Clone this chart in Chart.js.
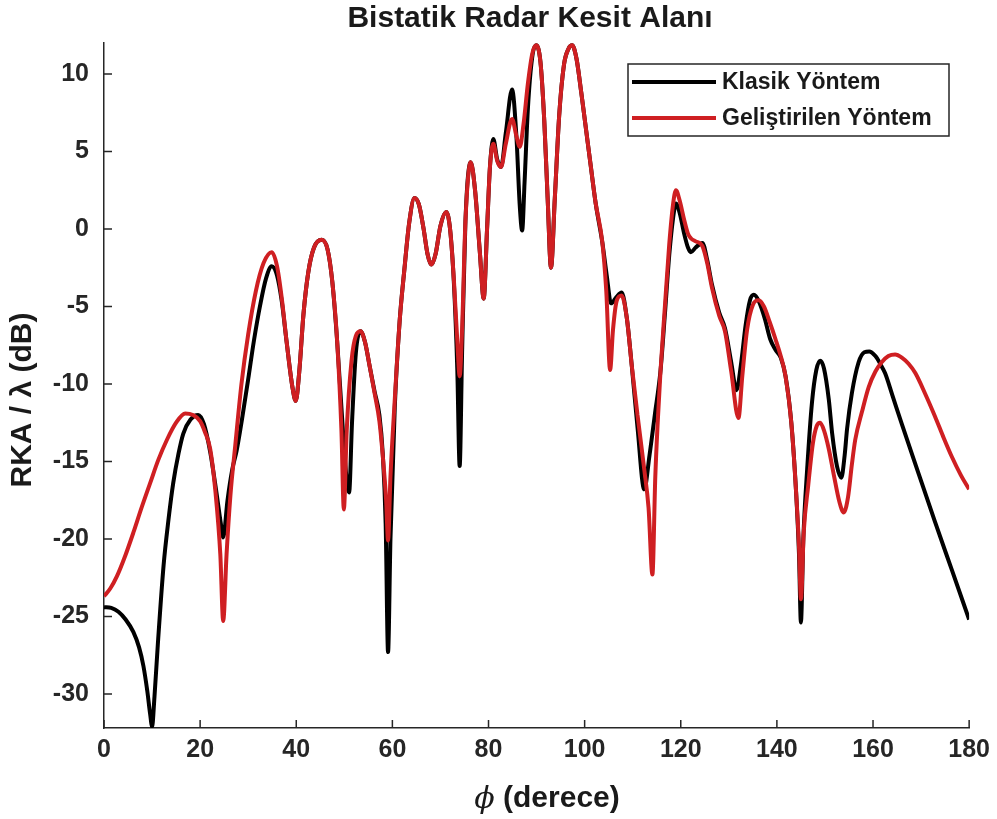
<!DOCTYPE html>
<html lang="tr">
<head>
    <meta charset="UTF-8">
    <title>Bistatik Radar Kesit Alanı</title>
    <script src="https://cdn.jsdelivr.net/npm/chart.js"></script>
    <style>
        html, body { margin: 0; padding: 0; background: #fff; }
        #wrap { width: 997px; height: 819px; }
    </style>
</head>
<body>
    <div id="wrap"><canvas id="rka"></canvas></div>

    <script>
        // eksen degerleri
        const xTicks = [0, 20, 40, 60, 80, 100, 120, 140, 160, 180];
        const yTicks = [-30, -25, -20, -15, -10, -5, 0, 5, 10];

        // [phi (derece), RKA/lambda (dB)]
        const klasik = [
            [0, -24.4], [1.5, -24.45], [3, -24.7], [4.5, -25.2], [6.1, -26.0], [7.3, -27.0], [8.2, -28.2], [9, -29.8], [9.6, -31.3], [10, -32.1],
            [10.5, -30.2], [11.2, -26.8], [12.4, -21.7], [13.4, -18.8], [14.4, -16.4], [15.5, -14.5], [16.5, -13.2], [18, -12.3], [19.6, -12.0], [20.8, -12.6],
            [22.1, -14.4], [23.3, -16.8], [24.3, -19.0], [24.8, -19.9], [25.7, -17.5], [26.7, -15.5], [27.6, -14.3], [28.7, -12.3], [30, -9.7], [31.2, -7.2],
            [32.5, -4.9], [33.7, -3.2], [34.9, -2.4], [36, -3.0], [37, -4.7], [38, -7.3], [39.2, -10.2], [39.9, -11.1], [40.6, -9.3], [41.5, -5.5],
            [42.5, -2.8], [43.7, -1.2], [45.3, -0.7], [46.5, -1.3], [47.5, -3.4], [48.5, -7.2], [49.6, -12.5], [50.5, -16.2], [51, -17.0], [51.6, -12.5],
            [52.4, -8.0], [53.4, -6.6], [54.3, -7.3], [55.3, -8.9], [56.3, -10.5], [57.3, -12.0], [58, -14.5], [58.6, -19.0], [59.1, -27.3], [59.6, -20.0],
            [60.5, -11.5], [61.5, -6.0], [62.5, -2.6], [63.5, 0.4], [64.6, 2.0], [65.5, 1.6], [66.5, 0.0], [67.3, -1.6], [68.1, -2.3], [69, -1.6],
            [70, 0.2], [71.2, 1.1], [72, 0.0], [72.8, -3.5], [73.5, -9.0], [74, -15.3], [74.5, -8.0], [75.2, 0.5], [76.3, 4.3], [77.2, 2.5],
            [78.2, -1.5], [79, -4.5], [79.7, 0.0], [80.3, 4.0], [81, 5.8], [81.8, 4.5], [82.6, 4.0], [83.6, 6.2], [84.9, 9.0], [85.8, 6.0],
            [86.5, 1.5], [87, -0.1], [87.5, 3.0], [88.2, 7.8], [89.1, 11.1], [89.9, 11.85], [90.8, 10.8], [91.6, 7.0], [92.3, 2.0], [93, -2.5],
            [93.8, 2.0], [94.7, 7.3], [95.7, 10.6], [96.6, 11.6], [97.4, 11.85], [98.3, 11.0], [99.3, 8.8], [100.3, 6.4], [101.3, 4.0], [102.3, 1.65],
            [103.7, -0.9], [104.6, -3.0], [105.5, -4.8], [106.6, -4.4], [107.7, -4.1], [108.8, -5.8], [109.8, -8.8], [111, -12.8], [112.4, -16.8], [113.5, -14.6],
            [114.6, -12.0], [115.8, -9.1], [116.7, -5.5], [117.6, -1.7], [118.4, 0.7], [119, 1.65], [119.8, 1.0], [120.7, -0.3], [121.5, -1.2], [122.1, -1.5],
            [123.1, -1.2], [124.5, -0.9], [125.5, -2.0], [126.5, -3.6], [128, -5.4], [129.2, -6.4], [130.5, -8.6], [131.6, -10.4], [132.5, -8.8], [133.5, -6.2],
            [134.4, -4.6], [135.2, -4.25], [136.3, -4.7], [137.5, -5.8], [138.6, -7.1], [139.7, -7.8], [140.8, -8.3], [141.8, -9.5], [143, -12.5], [144, -17.0],
            [144.6, -21.0], [145, -25.4], [145.5, -20.0], [146.3, -15.5], [147.3, -11.2], [148.2, -9.1], [149, -8.5], [149.8, -9.0], [150.8, -11.0], [151.5, -13.2],
            [152.5, -15.3], [153.4, -16.05], [154.1, -14.6], [154.6, -12.9], [155.6, -10.6], [157, -8.6], [158.2, -7.95], [159.2, -7.9], [160.5, -8.2], [161.5, -8.7],
            [162.5, -9.3], [164, -10.7], [166, -12.6], [169.5, -15.8], [172.9, -18.9], [176.4, -22.0], [180, -25.2]
        ];

        const gelistirilen = [
            [0, -23.7], [1.3, -23.2], [2.7, -22.4], [4.4, -21.1], [6.1, -19.6], [7.8, -18.0], [9.6, -16.4], [11.3, -14.9], [13.1, -13.6], [15, -12.5],
            [16.9, -11.9], [18.5, -12.0], [20, -12.4], [21, -13.1], [22.1, -14.2], [23.2, -17.0], [24.2, -21.0], [24.8, -25.3], [25.5, -21.0], [26.3, -17.2],
            [27.3, -14.0], [28.6, -10.0], [30, -6.8], [31.6, -4.0], [33.2, -2.2], [34.9, -1.5], [36, -2.4], [37, -4.5], [38, -7.3], [39.2, -10.2],
            [39.9, -11.1], [40.6, -9.3], [41.5, -5.5], [42.5, -2.8], [43.7, -1.2], [45.3, -0.7], [46.5, -1.3], [47.5, -3.4], [48.5, -7.2], [49.4, -13.0],
            [49.9, -18.1], [50.5, -13.0], [51.5, -8.5], [52.4, -6.9], [53.4, -6.6], [54.3, -7.3], [55.3, -8.9], [56.3, -10.6], [57.3, -12.4], [58.1, -15.0],
            [58.7, -17.5], [59.1, -20.1], [59.6, -16.0], [60.5, -11.0], [61.5, -6.0], [62.5, -2.6], [63.5, 0.4], [64.6, 2.0], [65.5, 1.6], [66.5, 0.0],
            [67.3, -1.6], [68.1, -2.3], [69, -1.6], [70, 0.2], [71.2, 1.1], [72, 0.0], [72.8, -3.3], [73.5, -7.2], [74, -9.5], [74.5, -6.5],
            [75.2, 0.5], [76.3, 4.3], [77.2, 2.5], [78.2, -1.5], [79, -4.5], [79.7, 0.0], [80.3, 4.0], [81, 5.5], [81.8, 4.4], [82.6, 4.0],
            [83.6, 5.5], [84.9, 7.1], [85.8, 6.0], [86.5, 5.3], [87.3, 6.8], [88.2, 9.4], [89.1, 11.3], [89.9, 11.85], [90.8, 10.8], [91.6, 7.0],
            [92.3, 2.0], [93, -2.5], [93.8, 2.0], [94.7, 7.3], [95.7, 10.6], [96.6, 11.6], [97.4, 11.85], [98.3, 11.0], [99.3, 8.8], [100.3, 6.4],
            [101.3, 4.0], [102.3, 1.65], [103.7, -0.9], [104.5, -4.0], [105.3, -9.1], [105.9, -6.5], [106.7, -4.6], [107.7, -4.3], [108.8, -5.8], [109.8, -8.8],
            [111, -12.0], [112.4, -15.5], [113.3, -18.0], [114.1, -22.3], [114.7, -16.0], [115.2, -12.5], [115.8, -9.1], [116.7, -5.0], [117.6, -1.0], [118.4, 1.6],
            [119, 2.5], [119.8, 1.8], [120.7, 0.6], [121.5, -0.3], [122.1, -0.6], [123.1, -0.8], [124.5, -1.1], [125.5, -2.2], [126.5, -3.8], [128, -5.6],
            [129.2, -6.6], [130.5, -9.2], [132, -12.2], [132.8, -9.5], [133.8, -6.5], [135, -4.9], [136.2, -4.6], [137.3, -5.0], [138.5, -6.0], [139.7, -7.1],
            [140.8, -8.2], [141.8, -9.5], [143, -12.5], [144, -17.0], [144.6, -20.5], [145, -23.9], [145.6, -19.5], [146.5, -16.6], [147.5, -13.8], [148.3, -12.7],
            [149, -12.5], [149.8, -13.0], [150.8, -14.2], [151.8, -15.8], [153, -17.6], [153.9, -18.3], [154.8, -17.3], [155.6, -15.2], [156.3, -13.6], [157.7, -11.8],
            [159.1, -10.2], [160.5, -9.2], [161.8, -8.6], [163.2, -8.2], [164.6, -8.1], [166, -8.3], [167.4, -8.7], [168.8, -9.3], [170.8, -10.6], [172.9, -12.1],
            [174.6, -13.4], [176.4, -14.7], [178.3, -15.9], [180, -16.8]
        ];

        const FONT = '"Liberation Sans", Arial, sans-serif';
        const INK = '#262626';
        Chart.defaults.font.family = FONT;

        // MATLAB tarzi: iceri donuk tikler, basliklar ve kutulu lejant
        const rkaPlugin = {
            id: 'rkaPlugin',
            afterDraw(chart) {
                const ctx = chart.ctx;
                const xs = chart.scales.x, ys = chart.scales.y;
                const area = chart.chartArea;
                ctx.save();
                ctx.strokeStyle = INK;
                ctx.lineWidth = 1.5;
                ctx.beginPath();
                xTicks.forEach(v => {
                    const p = xs.getPixelForValue(v);
                    ctx.moveTo(p, area.bottom);
                    ctx.lineTo(p, area.bottom - 8);
                });
                yTicks.forEach(v => {
                    const p = ys.getPixelForValue(v);
                    ctx.moveTo(area.left, p);
                    ctx.lineTo(area.left + 8, p);
                });
                ctx.stroke();

                ctx.fillStyle = '#1a1a1a';
                ctx.textBaseline = 'middle';

                ctx.font = 'bold 30px ' + FONT;
                ctx.textAlign = 'center';
                ctx.fillText('Bistatik Radar Kesit Alanı', 530, 19);

                // y ekseni basligi
                ctx.save();
                ctx.translate(23, 400);
                ctx.rotate(-Math.PI / 2);
                ctx.fillText('RKA / λ (dB)', 0, 0);
                ctx.restore();

                // x ekseni basligi (phi italik)
                const phiFont = 'italic 30px "DejaVu Serif", "Liberation Serif", serif';
                const restFont = 'bold 30px ' + FONT;
                ctx.font = phiFont;
                const wPhi = ctx.measureText('ϕ').width;
                ctx.font = restFont;
                const wRest = ctx.measureText(' (derece)').width;
                let x0 = 547 - (wPhi + wRest) / 2;
                ctx.textAlign = 'left';
                ctx.font = phiFont;
                ctx.fillText('ϕ', x0, 800);
                ctx.font = restFont;
                ctx.fillText(' (derece)', x0 + wPhi, 799);

                // lejant
                ctx.fillStyle = '#fff';
                ctx.fillRect(628, 64, 321, 72);
                ctx.strokeStyle = INK;
                ctx.lineWidth = 1.5;
                ctx.strokeRect(628, 64, 321, 72);
                const rows = [chart.data.datasets[0], chart.data.datasets[1]];
                rows.forEach((ds, i) => {
                    const y = 82 + i * 36;
                    ctx.strokeStyle = ds.borderColor;
                    ctx.lineWidth = 4;
                    ctx.beginPath();
                    ctx.moveTo(632, y);
                    ctx.lineTo(716, y);
                    ctx.stroke();
                    ctx.fillStyle = '#1a1a1a';
                    ctx.font = 'bold 23px ' + FONT;
                    ctx.textAlign = 'left';
                    ctx.fillText(ds.label, 722, y + 1);
                });
                ctx.restore();
            }
        };

        const tickFont = { size: 25, weight: 'bold' };

        new Chart(document.getElementById('rka'), {
            type: 'line',
            data: {
                datasets: [{
                    label: 'Klasik Yöntem',
                    data: klasik.map(p => ({ x: p[0], y: p[1] })),
                    borderColor: '#000000',
                    borderWidth: 4,
                    pointRadius: 0,
                    cubicInterpolationMode: 'monotone',
                    order: 1
                }, {
                    label: 'Geliştirilen Yöntem',
                    data: gelistirilen.map(p => ({ x: p[0], y: p[1] })),
                    borderColor: '#cf1f22',
                    borderWidth: 4,
                    pointRadius: 0,
                    cubicInterpolationMode: 'monotone',
                    order: 0
                }]
            },
            options: {
                responsive: true,
                maintainAspectRatio: false,
                animation: false,
                layout: { padding: { top: 43, right: 27, left: 0, bottom: 0 } },
                plugins: {
                    legend: { display: false },
                    title: { display: false },
                    tooltip: { enabled: false }
                },
                scales: {
                    x: {
                        type: 'linear',
                        min: 0,
                        max: 180,
                        afterFit(s) { s.height = 91; },
                        afterBuildTicks(s) { s.ticks = xTicks.map(v => ({ value: v })); },
                        grid: { display: true, drawOnChartArea: false, drawTicks: false },
                        border: { display: true, color: INK, width: 1.5 },
                        ticks: { padding: 7, color: INK, font: tickFont, maxRotation: 0 }
                    },
                    y: {
                        type: 'linear',
                        min: -32.2,
                        max: 12,
                        afterFit(s) { s.width = 104; },
                        afterBuildTicks(s) { s.ticks = yTicks.map(v => ({ value: v })); },
                        grid: { display: true, drawOnChartArea: false, drawTicks: false },
                        border: { display: true, color: INK, width: 1.5 },
                        ticks: { padding: 15, color: INK, font: tickFont }
                    }
                }
            },
            plugins: [rkaPlugin]
        });
    </script>
</body>
</html>
